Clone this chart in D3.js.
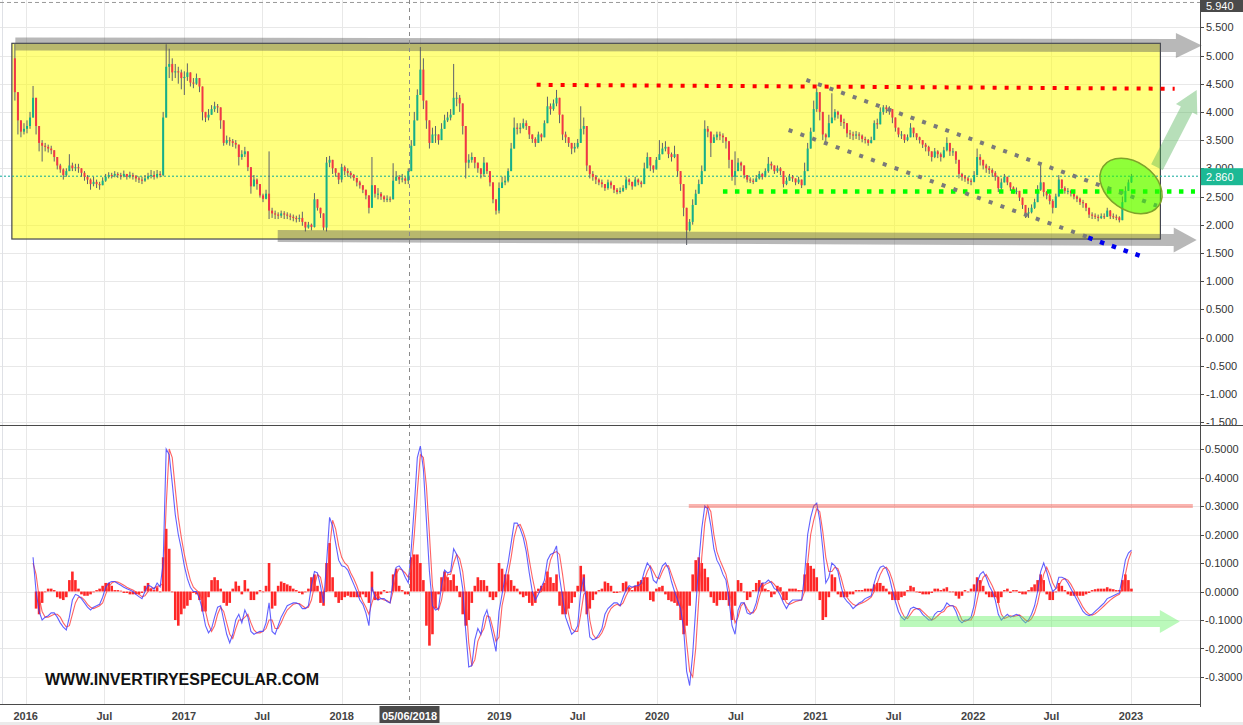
<!DOCTYPE html>
<html><head><meta charset="utf-8">
<script src="https://cdn.jsdelivr.net/npm/d3@7"></script>
<style>body{margin:0;background:#fff;}svg{display:block;font-family:"Liberation Sans",Arial,sans-serif;}</style>
</head><body><svg id="c" width="1243" height="725"></svg>
<script>
// ---------- DATA ----------
const firstWeek = "2015-12-07";
const firstOpen = 4.95;
const closes = [
4.35,3.85,3.65,3.7,3.75,3.9,4.25,3.75,3.45,3.4,
3.38,3.35,3.32,3.2,3.05,2.98,2.88,2.95,3.05,3.0,
3.02,3.0,2.92,2.85,2.8,2.72,2.76,2.72,2.7,2.78,
2.85,2.88,2.87,2.9,2.88,2.86,2.9,2.85,2.88,2.86,
2.82,2.8,2.78,2.82,2.86,2.88,2.85,2.9,2.88,3.9,
4.8,4.85,4.7,4.72,4.7,4.6,4.62,4.7,4.52,4.5,
4.6,4.45,4.0,3.9,3.95,4.05,4.1,4.08,3.85,3.45,
3.5,3.48,3.45,3.42,3.2,3.25,3.3,3.02,2.68,2.8,
2.72,2.52,2.46,2.55,2.25,2.2,2.18,2.16,2.2,2.18,
2.16,2.14,2.12,2.1,2.12,2.05,1.95,2.0,1.96,2.45,
2.3,2.2,1.95,3.1,3.15,3.0,2.92,2.8,3.02,2.95,
2.92,2.88,2.83,2.75,2.7,2.62,2.52,2.3,2.7,2.55,
2.55,2.5,2.45,2.46,2.45,2.78,2.85,2.8,2.82,2.78,
2.95,3.4,3.85,4.3,4.75,4.2,3.85,3.45,3.6,3.6,
3.5,3.7,3.85,3.9,3.95,4.25,4.25,4.15,3.75,3.1,
3.15,3.2,3.1,3.0,2.9,3.1,2.95,2.75,2.45,2.25,
2.65,2.75,2.78,2.95,3.35,3.72,3.7,3.72,3.8,3.75,
3.6,3.52,3.45,3.6,3.55,3.8,4.1,4.05,4.15,4.25,
3.95,3.6,3.55,3.45,3.35,3.38,3.45,3.7,3.75,3.05,
2.9,2.85,2.8,2.75,2.72,2.65,2.75,2.7,2.62,2.58,
2.6,2.65,2.8,2.76,2.68,2.8,2.75,2.72,3.0,3.2,
3.05,2.98,3.15,3.25,3.35,3.38,3.25,3.2,3.25,2.95,
2.72,2.3,1.9,2.05,2.35,2.55,2.72,2.95,3.7,3.65,
3.45,3.55,3.6,3.58,3.55,3.48,3.15,2.85,2.95,3.1,
3.05,2.88,2.8,2.78,2.76,2.82,2.9,2.85,2.95,3.08,
3.05,2.95,3.0,2.95,2.72,2.78,2.85,2.82,2.75,2.8,
2.7,2.95,3.35,3.65,4.05,4.35,4.0,3.6,3.55,3.8,
3.9,4.0,3.95,3.82,3.8,3.62,3.6,3.58,3.6,3.58,
3.52,3.5,3.45,3.5,3.8,3.78,4.0,4.08,4.05,4.05,
3.9,3.72,3.6,3.6,3.5,3.55,3.72,3.62,3.55,3.5,
3.42,3.38,3.3,3.2,3.3,3.25,3.2,3.32,3.45,3.3,
3.3,3.15,2.9,2.85,2.82,2.78,2.76,2.88,3.2,3.15,
3.05,3.0,2.97,2.92,2.85,2.65,2.75,2.85,2.75,2.66,
2.6,2.6,2.48,2.35,2.2,2.22,2.3,2.4,2.62,2.75,
2.58,2.52,2.42,2.3,2.5,2.8,2.65,2.6,2.6,2.56,
2.5,2.46,2.4,2.38,2.3,2.18,2.16,2.14,2.12,2.15,
2.14,2.25,2.15,2.14,2.13,2.08,2.4,2.6,2.75,2.86];
const highs = [
5.22,4.15,3.8,3.8,3.85,4.0,4.46,4.2,3.65,3.5,
3.45,3.42,3.4,3.3,3.2,3.08,3.0,3.0,3.25,3.1,
3.08,3.08,3.0,2.95,2.88,2.82,2.85,2.8,2.76,2.84,
2.9,2.93,2.92,2.95,2.93,2.92,2.96,2.9,2.94,2.92,
2.88,2.86,2.85,2.88,2.92,2.97,2.95,2.97,2.95,4.0,
5.2,5.12,4.95,4.85,4.8,4.75,4.72,4.86,4.65,4.6,
4.68,4.55,4.4,4.0,4.05,4.12,4.18,4.14,4.05,3.7,
3.58,3.55,3.52,3.5,3.4,3.32,3.38,3.2,2.95,2.88,
2.82,2.65,2.55,2.62,3.3,2.3,2.25,2.22,2.25,2.24,
2.22,2.2,2.18,2.16,2.18,2.23,2.05,2.05,2.02,2.56,
2.42,2.3,2.1,3.2,3.22,3.1,3.0,2.9,3.08,3.05,
3.0,2.95,2.9,2.82,2.78,2.7,2.6,2.5,3.2,2.68,
2.65,2.58,2.52,2.52,2.5,3.09,2.95,2.88,2.9,2.85,
3.0,3.5,4.0,4.4,5.15,4.95,4.2,3.8,3.72,3.75,
3.6,3.8,3.95,4.0,4.05,4.85,4.35,4.3,4.0,3.4,
3.25,3.28,3.2,3.1,3.0,3.2,3.05,2.9,2.62,2.42,
2.75,2.85,2.85,3.0,3.45,3.9,3.8,3.8,3.88,3.85,
3.7,3.6,3.55,3.65,3.62,3.85,4.27,4.15,4.22,4.39,
4.2,3.8,3.65,3.55,3.45,3.45,3.52,4.1,3.9,3.7,
3.0,2.95,2.88,2.82,2.8,2.72,2.8,2.78,2.7,2.65,
2.66,2.7,2.85,2.82,2.75,2.85,2.82,2.78,3.1,3.28,
3.2,3.05,3.2,3.5,3.45,3.48,3.35,3.28,3.4,3.2,
2.85,2.6,2.2,2.1,2.45,2.62,2.8,3.05,3.85,3.75,
3.6,3.6,3.65,3.65,3.62,3.55,3.35,3.0,3.3,3.18,
3.12,3.0,2.86,2.84,2.82,2.88,2.95,2.92,3.0,3.2,
3.12,3.05,3.05,3.02,2.95,2.84,2.9,2.88,2.82,2.85,
2.78,3.1,3.45,3.72,4.2,4.42,4.3,3.9,3.62,3.95,
4.33,4.05,4.02,3.95,3.88,3.8,3.68,3.65,3.66,3.64,
3.6,3.56,3.52,3.56,3.85,3.88,4.08,4.12,4.12,4.1,
4.05,3.85,3.7,3.66,3.6,3.6,3.8,3.72,3.62,3.56,
3.5,3.45,3.4,3.3,3.36,3.32,3.28,3.38,3.55,3.42,
3.36,3.3,3.1,2.92,2.88,2.85,2.82,2.95,3.35,3.25,
3.15,3.08,3.04,3.0,2.95,2.8,2.82,2.9,2.85,2.72,
2.68,2.66,2.6,2.45,2.32,2.3,2.36,2.46,2.7,3.05,
2.7,2.6,2.55,2.45,2.55,2.88,2.78,2.68,2.65,2.62,
2.58,2.52,2.48,2.44,2.38,2.3,2.22,2.2,2.18,2.2,
2.2,2.3,2.26,2.2,2.18,2.15,2.5,2.68,2.8,2.9];
const lows = [
4.2,3.6,3.55,3.6,3.62,3.7,3.9,3.6,3.3,3.12,
3.3,3.28,3.25,3.12,2.98,2.92,2.8,2.85,2.95,2.95,
2.95,2.92,2.85,2.78,2.72,2.62,2.68,2.65,2.62,2.7,
2.76,2.82,2.82,2.84,2.83,2.8,2.84,2.8,2.82,2.8,
2.76,2.74,2.72,2.76,2.8,2.82,2.8,2.82,2.84,2.86,
4.4,4.6,4.55,4.6,4.5,4.4,4.3,4.55,4.45,4.42,
4.48,4.35,3.85,3.82,3.85,3.95,4.0,3.98,3.7,3.4,
3.42,3.4,3.38,3.35,3.05,3.15,3.2,2.95,2.55,2.7,
2.62,2.48,2.4,2.45,2.1,2.12,2.1,2.1,2.12,2.1,
2.1,2.08,2.06,2.04,2.05,1.98,1.88,1.93,1.9,1.95,
2.25,2.12,1.9,1.88,3.02,2.9,2.85,2.72,2.75,2.88,
2.85,2.82,2.78,2.68,2.64,2.56,2.45,2.2,2.3,2.48,
2.45,2.44,2.4,2.4,2.4,2.45,2.78,2.72,2.75,2.72,
2.72,2.95,3.45,3.85,4.3,4.05,3.7,3.35,3.45,3.45,
3.42,3.5,3.75,3.82,3.85,3.95,4.1,4.0,3.6,2.82,
3.0,3.1,3.0,2.92,2.82,2.85,2.9,2.68,2.38,2.18,
2.2,2.65,2.7,2.75,2.95,3.4,3.6,3.62,3.7,3.68,
3.52,3.45,3.38,3.45,3.48,3.55,3.8,3.95,4.02,4.1,
3.8,3.5,3.45,3.38,3.25,3.28,3.35,3.45,3.6,2.95,
2.82,2.78,2.72,2.7,2.66,2.6,2.62,2.64,2.56,2.54,
2.55,2.58,2.62,2.7,2.62,2.68,2.7,2.66,2.72,3.0,
2.95,2.92,2.98,3.15,3.25,3.3,3.18,3.12,3.18,2.85,
2.6,2.15,1.64,1.88,2.0,2.4,2.6,2.8,3.0,3.55,
3.2,3.45,3.5,3.5,3.45,3.35,3.0,2.78,2.7,3.0,
2.95,2.82,2.75,2.74,2.72,2.76,2.8,2.8,2.84,2.92,
2.98,2.9,2.92,2.88,2.66,2.7,2.78,2.76,2.7,2.72,
2.65,2.7,2.95,3.35,3.65,4.0,3.85,3.5,3.45,3.55,
3.8,3.85,3.88,3.75,3.7,3.55,3.52,3.5,3.52,3.5,
3.46,3.44,3.4,3.44,3.5,3.7,3.8,3.95,3.98,3.95,
3.8,3.65,3.55,3.52,3.45,3.48,3.55,3.55,3.5,3.44,
3.36,3.3,3.22,3.12,3.18,3.18,3.12,3.18,3.3,3.22,
3.22,3.08,2.82,2.78,2.76,2.72,2.7,2.75,2.9,3.05,
2.98,2.92,2.9,2.85,2.78,2.58,2.62,2.76,2.7,2.6,
2.55,2.54,2.42,2.28,2.12,2.12,2.2,2.28,2.4,2.6,
2.5,2.45,2.36,2.2,2.38,2.5,2.6,2.55,2.54,2.5,
2.45,2.4,2.35,2.3,2.24,2.12,2.1,2.1,2.06,2.1,
2.1,2.14,2.1,2.1,2.08,2.04,2.08,2.4,2.62,2.74];
const macd = [
null,null,null,null,null,null,0.12,0.0,-0.07,-0.1,
-0.09,-0.085,-0.075,-0.075,-0.09,-0.11,-0.125,-0.135,-0.09,-0.03,
-0.01,-0.015,-0.025,-0.04,-0.055,-0.065,-0.055,-0.05,-0.045,-0.02,
0.015,0.03,0.035,0.035,0.028,0.022,0.015,0.01,0.005,0.0,
-0.01,-0.018,-0.025,0.0,0.022,0.018,0.008,0.03,0.016,0.1,
0.5,0.48,0.38,0.27,0.2,0.15,0.09,0.045,0.015,0.0,
0.0,-0.025,-0.065,-0.12,-0.145,-0.13,-0.09,-0.055,-0.05,-0.1,
-0.15,-0.18,-0.15,-0.1,-0.08,-0.11,-0.065,-0.09,-0.14,-0.15,
-0.145,-0.14,-0.14,-0.11,-0.04,-0.14,-0.15,-0.12,-0.09,-0.07,
-0.05,-0.045,-0.04,-0.04,-0.045,-0.06,-0.06,-0.05,0.02,0.07,
0.065,0.02,-0.04,0.1,0.26,0.23,0.17,0.11,0.09,0.087,
0.075,0.05,0.025,0.0,-0.03,-0.045,-0.075,-0.12,0.016,-0.02,
-0.03,-0.025,-0.025,-0.035,-0.04,0.04,0.085,0.09,0.075,0.05,
0.03,0.15,0.3,0.47,0.51,0.43,0.25,0.07,-0.05,-0.065,
-0.06,0.02,0.075,0.065,0.07,0.15,0.13,0.08,0.01,-0.14,
-0.265,-0.26,-0.17,-0.13,-0.15,-0.09,-0.065,-0.11,-0.16,-0.21,
-0.07,-0.01,0.05,0.1,0.17,0.24,0.24,0.22,0.19,0.14,
0.065,0.0,-0.03,-0.01,0.015,0.04,0.11,0.13,0.135,0.16,
0.05,-0.02,-0.09,-0.12,-0.15,-0.14,-0.12,0.0,0.05,-0.06,
-0.16,-0.17,-0.165,-0.15,-0.13,-0.08,-0.06,-0.05,-0.04,-0.04,
-0.05,-0.02,0.005,0.02,0.015,0.02,0.02,0.03,0.07,0.1,
0.085,0.04,0.03,0.06,0.09,0.1,0.08,0.035,0.0,-0.03,
-0.06,-0.13,-0.28,-0.33,-0.22,-0.06,0.1,0.22,0.3,0.29,
0.23,0.15,0.11,0.09,0.06,0.04,-0.03,-0.12,-0.15,-0.065,
-0.04,-0.04,-0.075,-0.08,-0.07,-0.04,0.01,0.03,0.03,0.04,
0.03,0.01,0.005,-0.015,-0.04,-0.06,-0.04,-0.03,-0.03,-0.03,
-0.03,0.06,0.2,0.26,0.3,0.31,0.25,0.15,0.03,0.05,
0.1,0.09,0.07,0.02,-0.02,-0.035,-0.045,-0.06,-0.05,-0.04,
-0.035,-0.025,-0.02,-0.015,0.03,0.065,0.085,0.09,0.08,0.05,
0.005,-0.035,-0.07,-0.09,-0.1,-0.085,-0.06,-0.055,-0.06,-0.065,
-0.08,-0.09,-0.1,-0.1,-0.08,-0.07,-0.07,-0.06,-0.04,-0.05,
-0.05,-0.07,-0.1,-0.11,-0.1,-0.1,-0.09,-0.05,0.03,0.06,
0.07,0.05,0.02,0.0,-0.03,-0.08,-0.1,-0.09,-0.08,-0.09,
-0.085,-0.08,-0.085,-0.1,-0.11,-0.1,-0.08,-0.05,0.0,0.07,
0.1,0.07,0.03,0.0,0.01,0.05,0.05,0.045,0.03,0.01,
-0.01,-0.03,-0.05,-0.07,-0.08,-0.085,-0.08,-0.07,-0.06,-0.05,
-0.04,-0.025,-0.02,-0.015,-0.01,-0.005,0.05,0.11,0.135,0.145];
const signal = [
null,null,null,null,null,null,0.1,0.06,-0.02,-0.07,
-0.09,-0.09,-0.085,-0.08,-0.08,-0.09,-0.11,-0.125,-0.12,-0.08,
-0.04,-0.02,-0.02,-0.03,-0.045,-0.055,-0.06,-0.055,-0.05,-0.04,
-0.01,0.015,0.03,0.035,0.033,0.028,0.022,0.015,0.01,0.005,
-0.002,-0.01,-0.018,-0.015,0.0,0.012,0.012,0.018,0.02,0.03,
0.3,0.5,0.47,0.36,0.26,0.19,0.13,0.08,0.04,0.015,
0.005,-0.005,-0.03,-0.07,-0.115,-0.14,-0.12,-0.08,-0.055,-0.07,
-0.11,-0.15,-0.165,-0.13,-0.1,-0.1,-0.09,-0.08,-0.11,-0.135,
-0.145,-0.145,-0.14,-0.13,-0.1,-0.1,-0.13,-0.13,-0.11,-0.085,
-0.065,-0.055,-0.045,-0.042,-0.042,-0.05,-0.058,-0.055,-0.03,0.02,
0.06,0.05,0.0,0.0,0.15,0.25,0.22,0.16,0.12,0.1,
0.09,0.065,0.045,0.02,-0.01,-0.035,-0.055,-0.08,-0.04,-0.01,
-0.015,-0.025,-0.03,-0.032,-0.04,0.0,0.06,0.08,0.075,0.065,
0.05,0.08,0.2,0.35,0.48,0.47,0.37,0.2,0.02,-0.05,
-0.065,-0.03,0.03,0.06,0.06,0.1,0.13,0.115,0.07,-0.02,
-0.18,-0.26,-0.24,-0.175,-0.15,-0.13,-0.085,-0.09,-0.13,-0.175,
-0.16,-0.05,0.0,0.06,0.12,0.19,0.23,0.235,0.21,0.175,
0.11,0.05,0.0,-0.005,0.0,0.02,0.06,0.11,0.135,0.14,
0.13,0.06,-0.02,-0.08,-0.13,-0.14,-0.14,-0.08,-0.01,0.0,
-0.1,-0.15,-0.165,-0.16,-0.145,-0.12,-0.08,-0.06,-0.05,-0.045,
-0.05,-0.04,-0.015,0.005,0.015,0.015,0.018,0.022,0.04,0.07,
0.09,0.07,0.05,0.045,0.07,0.09,0.09,0.06,0.03,0.0,
-0.03,-0.07,-0.18,-0.28,-0.3,-0.2,-0.03,0.12,0.24,0.3,
0.28,0.2,0.14,0.11,0.085,0.06,0.01,-0.05,-0.11,-0.09,
-0.05,-0.04,-0.06,-0.075,-0.075,-0.06,-0.02,0.015,0.025,0.03,
0.035,0.025,0.01,0.0,-0.02,-0.04,-0.045,-0.04,-0.035,-0.032,
-0.03,0.0,0.1,0.2,0.25,0.29,0.28,0.21,0.12,0.07,
0.07,0.085,0.08,0.05,0.01,-0.02,-0.035,-0.045,-0.05,-0.045,
-0.04,-0.035,-0.028,-0.02,0.0,0.03,0.06,0.08,0.085,0.07,
0.04,0.0,-0.04,-0.07,-0.09,-0.095,-0.08,-0.065,-0.06,-0.06,
-0.07,-0.08,-0.09,-0.1,-0.095,-0.085,-0.075,-0.07,-0.055,-0.05,
-0.05,-0.055,-0.075,-0.1,-0.105,-0.1,-0.1,-0.08,-0.03,0.02,
0.05,0.06,0.04,0.02,-0.005,-0.04,-0.08,-0.095,-0.09,-0.085,
-0.088,-0.085,-0.082,-0.09,-0.1,-0.105,-0.095,-0.075,-0.04,0.01,
0.06,0.085,0.06,0.03,0.01,0.02,0.04,0.045,0.04,0.025,
0.005,-0.015,-0.035,-0.055,-0.07,-0.08,-0.083,-0.078,-0.07,-0.06,
-0.05,-0.04,-0.03,-0.022,-0.015,-0.01,0.01,0.06,0.11,0.14];
const hist = [
null,null,null,null,null,null,null,-0.06,-0.08,-0.04,
0.0,0.01,0.01,0.005,-0.02,-0.025,-0.03,-0.02,0.04,0.07,
0.04,0.01,-0.01,-0.015,-0.015,-0.01,0.0,0.005,0.01,0.02,
0.03,0.03,0.02,0.005,0.005,0.003,-0.005,-0.005,-0.01,-0.01,
-0.01,-0.01,-0.005,0.02,0.03,0.01,0.005,0.015,0.0,0.12,
0.22,0.15,0.0,-0.1,-0.12,-0.08,-0.06,-0.05,-0.03,-0.005,
-0.01,-0.03,-0.07,-0.07,-0.02,0.04,0.05,0.04,0.01,-0.04,
-0.05,-0.04,0.01,0.035,0.02,-0.01,0.04,0.01,-0.03,-0.03,
-0.01,0.005,0.0,0.02,0.1,-0.06,-0.05,0.02,0.035,0.03,
0.025,0.02,0.01,0.005,-0.005,-0.01,0.0,0.01,0.05,0.06,
0.02,-0.04,-0.05,0.1,0.17,0.05,-0.02,-0.04,-0.03,-0.02,
-0.015,-0.02,-0.02,-0.02,-0.02,-0.01,-0.02,-0.04,0.07,-0.03,
-0.03,-0.01,0.005,-0.005,0.0,0.06,0.08,0.02,0.005,-0.01,
-0.01,0.12,0.13,0.13,0.1,0.04,-0.12,-0.19,-0.15,-0.06,
-0.01,0.05,0.07,0.05,0.04,0.06,0.02,-0.02,-0.08,-0.12,
-0.1,-0.04,0.02,0.05,0.04,0.04,0.02,-0.02,-0.03,-0.02,
0.1,0.08,0.06,0.06,0.04,0.02,0.01,-0.01,-0.02,-0.015,
-0.04,-0.05,-0.04,0.01,0.02,0.03,0.07,0.05,0.03,0.06,
-0.05,-0.08,-0.08,-0.06,-0.04,-0.02,0.02,0.09,0.06,-0.08,
-0.06,-0.03,-0.01,0.005,0.01,0.035,0.03,0.02,-0.005,-0.005,
0.0,0.03,0.035,0.015,0.005,0.02,0.035,0.04,0.05,0.05,
-0.03,-0.035,0.01,0.015,0.02,-0.01,-0.03,-0.035,-0.04,-0.05,
-0.1,-0.15,-0.12,-0.05,0.06,0.11,0.12,0.1,0.08,0.05,
-0.02,-0.04,-0.05,-0.03,-0.03,-0.03,-0.05,-0.1,-0.05,0.04,
0.03,0.0,-0.03,-0.02,0.005,0.03,0.04,0.03,0.01,0.005,
-0.02,-0.01,0.02,0.015,-0.03,-0.03,0.01,0.01,0.01,0.005,
0.005,0.06,0.1,0.09,0.08,0.05,-0.03,-0.1,-0.09,-0.02,
0.06,0.05,-0.01,-0.02,-0.02,-0.02,-0.01,-0.01,0.005,0.005,
0.005,0.01,0.01,0.01,0.025,0.03,0.03,0.02,0.01,-0.01,
-0.03,-0.03,-0.03,-0.02,-0.015,0.005,0.02,0.015,0.0,-0.005,
-0.01,-0.01,-0.01,-0.005,0.01,0.01,0.005,0.01,0.015,0.0,
0.0,-0.015,-0.025,-0.015,0.005,0.0,0.01,0.025,0.05,0.04,
0.02,-0.01,-0.02,-0.02,-0.02,-0.04,-0.02,0.005,0.01,-0.005,
0.005,0.005,-0.005,-0.01,-0.01,0.005,0.015,0.025,0.04,0.06,
0.04,-0.01,-0.03,-0.03,0.0,0.03,0.02,0.005,-0.01,-0.015,
-0.015,-0.015,-0.015,-0.015,-0.01,-0.005,0.005,0.008,0.01,0.01,
0.01,0.015,0.01,0.008,0.005,0.005,0.04,0.06,0.04,0.01];

const priceTicks = [-1.5,-1,-0.5,0,0.5,1,1.5,2,2.5,3,3.5,4,4.5,5,5.5];
const macdTicks = [-0.3,-0.2,-0.1,0,0.1,0.2,0.3,0.4,0.5];
const timeTicks = [["2016-01-01","2016"],["2016-07-01","Jul"],["2017-01-01","2017"],["2017-07-01","Jul"],
  ["2018-01-01","2018"],["2018-07-01","Jul"],["2019-01-01","2019"],["2019-07-01","Jul"],["2020-01-01","2020"],
  ["2020-07-01","Jul"],["2021-01-01","2021"],["2021-07-01","Jul"],["2022-01-01","2022"],["2022-07-01","Jul"],["2023-01-01","2023"]];
const lastPrice = 2.86, topPrice = 5.94, cursorDate = "2018-06-05", cursorLabel = "05/06/2018";
// annotations (date, value)
const rangeBox = [["2015-11-30",5.216],["2023-03-10",1.746]];
const topArrow = [["2015-12-08",5.204],["2023-06-14",5.177]];
const bottomArrow = [["2017-08-06",1.80],["2023-06-02",1.729]];
const riseArrow = [["2023-03-02",3.02],["2023-06-02",4.39]];
const resistance = [["2019-03-28",4.48],["2023-04-12",4.41]];
const support = [["2020-06-01",2.589],["2023-05-29",2.589]];
const channelTop = [["2020-12-11",4.566],["2023-03-02",2.337]];
const channelBottom = [["2020-10-31",3.679],["2022-09-21",1.787]];
const channelExt = [["2022-09-24",1.77],["2023-01-21",1.450]];
const ellipseCenter = ["2023-01-01",2.686];
const macdLevel = [["2020-03-14",0.3],["2023-05-24",0.3]];
const macdArrow = [["2021-07-15",-0.105],["2023-04-24",-0.105]];
const watermark = "WWW.INVERTIRYESPECULAR.COM";

// ---------- SCALES ----------
const parse = d3.utcParse("%Y-%m-%d");
const axisX = 1200, sepY = 425, botY = 704;
const x = d3.scaleUtc().domain([parse("2016-01-01"), parse("2023-01-01")]).range([25.7, 1131]);
const yP = d3.scaleLinear().domain([0, 5]).range([337.5, 55.5]);
const yM = d3.scaleLinear().domain([0, 0.5]).range([591.5, 449]);
const loc = d3.formatLocale({decimal:".",thousands:",",grouping:[3],currency:["$",""],minus:"-"});
const fP = loc.format(".3f"), fM = loc.format(".4f");
const week0 = parse(firstWeek);
const dates = closes.map((_, i) => d3.utcDay.offset(week0, 7 * i));
const P = (p, ys) => [x(parse(p[0])), ys(p[1])];

const svg = d3.select("#c");
const defs = svg.append("defs");
defs.append("clipPath").attr("id","cp").append("rect").attr("x",0).attr("y",0).attr("width",axisX).attr("height",sepY);
defs.append("clipPath").attr("id","cm").append("rect").attr("x",0).attr("y",sepY).attr("width",axisX).attr("height",botY-sepY);
defs.append("clipPath").attr("id","ca").append("rect").attr("x",axisX).attr("y",0).attr("width",43).attr("height",sepY);

svg.append("rect").attr("x",0).attr("y",722).attr("width",1243).attr("height",3).attr("fill","#ebebeb");

// grid
const grid = svg.append("g").attr("stroke","#e8e8e8").attr("stroke-width",1);
timeTicks.forEach(t => { const xx = Math.round(x(parse(t[0]))) + 0.5;
  grid.append("line").attr("x1",xx).attr("x2",xx).attr("y1",0).attr("y2",botY); });
priceTicks.forEach(t => { const yy = Math.round(yP(t)) + 0.5;
  grid.append("line").attr("x1",0).attr("x2",axisX).attr("y1",yy).attr("y2",yy); });
macdTicks.forEach(t => { const yy = Math.round(yM(t)) + 0.5;
  grid.append("line").attr("x1",0).attr("x2",axisX).attr("y1",yy).attr("y2",yy); });
svg.append("line").attr("x1",2.5).attr("x2",2.5).attr("y1",0).attr("y2",botY).attr("stroke","#dfe1e6");

// ---------- PRICE PANEL ----------
const gp = svg.append("g").attr("clip-path","url(#cp)");
const b0 = P(rangeBox[0], yP), b1 = P(rangeBox[1], yP);
gp.append("rect").attr("x",b0[0]).attr("y",b0[1]).attr("width",b1[0]-b0[0]).attr("height",b1[1]-b0[1])
  .attr("fill","#ffff00").attr("fill-opacity",0.5).attr("stroke","#434651").attr("stroke-width",1.2);

gp.append("line").attr("x1",0).attr("x2",axisX).attr("y1",yP(topPrice)).attr("y2",yP(topPrice))
  .attr("stroke","#9a9a9a").attr("stroke-dasharray","4,3");
gp.append("line").attr("x1",0).attr("x2",axisX).attr("y1",yP(lastPrice)).attr("y2",yP(lastPrice))
  .attr("stroke","#0aa89a").attr("stroke-dasharray","2,2");

// candles
const cg = gp.append("g");
closes.forEach((c, i) => {
  const o = i ? closes[i-1] : firstOpen;
  const xc = x(dates[i]);
  const hi = Math.max(highs[i], o, c), lo = Math.min(lows[i], o, c);
  cg.append("line").attr("x1",xc).attr("x2",xc).attr("y1",yP(hi)).attr("y2",yP(lo)).attr("stroke","#5d606b").attr("stroke-width",1);
  const top = yP(Math.max(o,c)), bot = yP(Math.min(o,c));
  cg.append("rect").attr("x",xc-1).attr("y",top).attr("width",2).attr("height",Math.max(1,bot-top))
    .attr("fill", c >= o ? "#14b08a" : "#f23645");
});

function arrow(g, p0, p1, w, hw, hl, fill, op){
  const dx=p1[0]-p0[0], dy=p1[1]-p0[1], L=Math.hypot(dx,dy), ux=dx/L, uy=dy/L, nx=-uy, ny=ux;
  const bx=p1[0]-ux*hl, by=p1[1]-uy*hl;
  const pts=[[p0[0]+nx*w,p0[1]+ny*w],[bx+nx*w,by+ny*w],[bx+nx*hw,by+ny*hw],p1,[bx-nx*hw,by-ny*hw],[bx-nx*w,by-ny*w],[p0[0]-nx*w,p0[1]-ny*w]];
  g.append("polygon").attr("points",pts.map(p=>p.join(",")).join(" ")).attr("fill",fill).attr("fill-opacity",op);
}
function dotted(g, pts, ys, color, size, gap){
  const a=P(pts[0],ys), b=P(pts[1],ys);
  g.append("line").attr("x1",a[0]).attr("y1",a[1]).attr("x2",b[0]).attr("y2",b[1])
   .attr("stroke",color).attr("stroke-width",size).attr("stroke-dasharray",size+","+gap);
}
const ga = svg.append("g");
arrow(ga, P(topArrow[0],yP), P(topArrow[1],yP), 6.5, 12.5, 26, "#555", 0.42);
arrow(ga, P(bottomArrow[0],yP), P(bottomArrow[1],yP), 6, 12.5, 23, "#555", 0.42);
arrow(ga, P(riseArrow[0],yP), P(riseArrow[1],yP), 6.5, 12, 22, "#4caf50", 0.4);
dotted(ga, resistance, yP, "#ff0000", 4, 8);
dotted(ga, support, yP, "#00ff00", 4.5, 7.5);
dotted(ga, channelTop, yP, "#7a7a7a", 4, 8.3);
dotted(ga, channelBottom, yP, "#7a7a7a", 4, 8.5);
dotted(ga, channelExt, yP, "#0000ee", 4.5, 8);
const ec = P(ellipseCenter, yP);
ga.append("ellipse").attr("cx",0).attr("cy",0).attr("rx",34).attr("ry",24)
  .attr("transform",`translate(${ec[0]},${ec[1]}) rotate(35)`)
  .attr("fill","#33ff00").attr("fill-opacity",0.55).attr("stroke","#7ea32a").attr("stroke-width",1.5);

// ---------- MACD PANEL ----------
const gm = svg.append("g").attr("clip-path","url(#cm)");
gm.append("g").selectAll("rect").data(hist.map((v,i)=>[i,v]).filter(d=>d[1]!=null)).join("rect")
  .attr("x",d=>x(dates[d[0]])-1.3).attr("width",2.6)
  .attr("y",d=>Math.min(yM(d[1]),yM(0))).attr("height",d=>Math.max(0.8,Math.abs(yM(d[1])-yM(0))))
  .attr("fill","#ff1010").attr("fill-opacity",0.9);
const ln = arr => d3.line().defined(d=>d[1]!=null).x(d=>x(dates[d[0]])).y(d=>yM(d[1]))(arr.map((v,i)=>[i,v]));
gm.append("path").attr("d",ln(signal)).attr("fill","none").attr("stroke","#ff3b3b").attr("stroke-opacity",0.8).attr("stroke-width",1.1);
gm.append("path").attr("d",ln(macd)).attr("fill","none").attr("stroke","#3a3aff").attr("stroke-opacity",0.8).attr("stroke-width",1.1);
const ml0 = P(macdLevel[0], yM), ml1 = P(macdLevel[1], yM);
gm.append("line").attr("x1",ml0[0]).attr("x2",ml1[0]).attr("y1",ml0[1]).attr("y2",ml1[1]).attr("stroke","#f44336").attr("stroke-opacity",0.4).attr("stroke-width",4);
arrow(gm, P(macdArrow[0],yM), P(macdArrow[1],yM), 5.5, 11.5, 20, "#5cf05c", 0.42);
svg.append("text").attr("x",45).attr("y",685).attr("font-size",16).attr("font-weight","bold").attr("fill","#111").text(watermark);

// cursor line
const cx = Math.round(x(parse(cursorDate))) + 0.5;
svg.append("line").attr("x1",cx).attr("x2",cx).attr("y1",0).attr("y2",botY).attr("stroke","#8a8a8a").attr("stroke-dasharray","4,4");

// frame
svg.append("line").attr("x1",0).attr("x2",1243).attr("y1",sepY+0.5).attr("y2",sepY+0.5).attr("stroke","#4a4a4a");
svg.append("line").attr("x1",0).attr("x2",axisX).attr("y1",botY+0.5).attr("y2",botY+0.5).attr("stroke","#4a4a4a");
svg.append("line").attr("x1",axisX+0.5).attr("x2",axisX+0.5).attr("y1",0).attr("y2",botY+3).attr("stroke","#4a4a4a");

// right axis labels
const ax = svg.append("g").attr("font-size",11).attr("fill","#333");
const axP = ax.append("g").attr("clip-path","url(#ca)");
priceTicks.forEach(t => {
  axP.append("text").attr("x",1206).attr("y",yP(t)+4).text(fP(t));
  svg.append("line").attr("x1",axisX).attr("x2",axisX+4).attr("y1",Math.round(yP(t))+0.5).attr("y2",Math.round(yP(t))+0.5).attr("stroke","#4a4a4a");
});
macdTicks.forEach(t => {
  ax.append("text").attr("x",1205).attr("y",yM(t)+4).text(fM(t));
  svg.append("line").attr("x1",axisX).attr("x2",axisX+4).attr("y1",Math.round(yM(t))+0.5).attr("y2",Math.round(yM(t))+0.5).attr("stroke","#4a4a4a");
});
svg.append("rect").attr("x",axisX+1).attr("y",0).attr("width",42).attr("height",12).attr("fill","#4a4a4a");
svg.append("text").attr("x",1206).attr("y",10).attr("font-size",11).attr("fill","#fff").text(fP(topPrice));
svg.append("rect").attr("x",axisX+1).attr("y",yP(lastPrice)-8).attr("width",42).attr("height",17).attr("fill","#1cb995");
svg.append("text").attr("x",1206).attr("y",yP(lastPrice)+5).attr("font-size",11).attr("fill","#fff").text(fP(lastPrice));

// time axis labels (the label under the cursor box is hidden, as in the reference)
const tx = svg.append("g").attr("font-size",11).attr("font-weight","bold").attr("fill","#444").attr("text-anchor","middle");
timeTicks.forEach(t => { const xx = x(parse(t[0]));
  if (Math.abs(xx - cx) > 40) tx.append("text").attr("x",xx).attr("y",720).text(t[1]); });
svg.append("rect").attr("x",cx-30).attr("y",706).attr("width",60).attr("height",17).attr("fill","#4a4a4a");
svg.append("text").attr("x",cx).attr("y",720).attr("text-anchor","middle").attr("font-size",11).attr("font-weight","bold").attr("fill","#fff").text(cursorLabel);
</script></body></html>
